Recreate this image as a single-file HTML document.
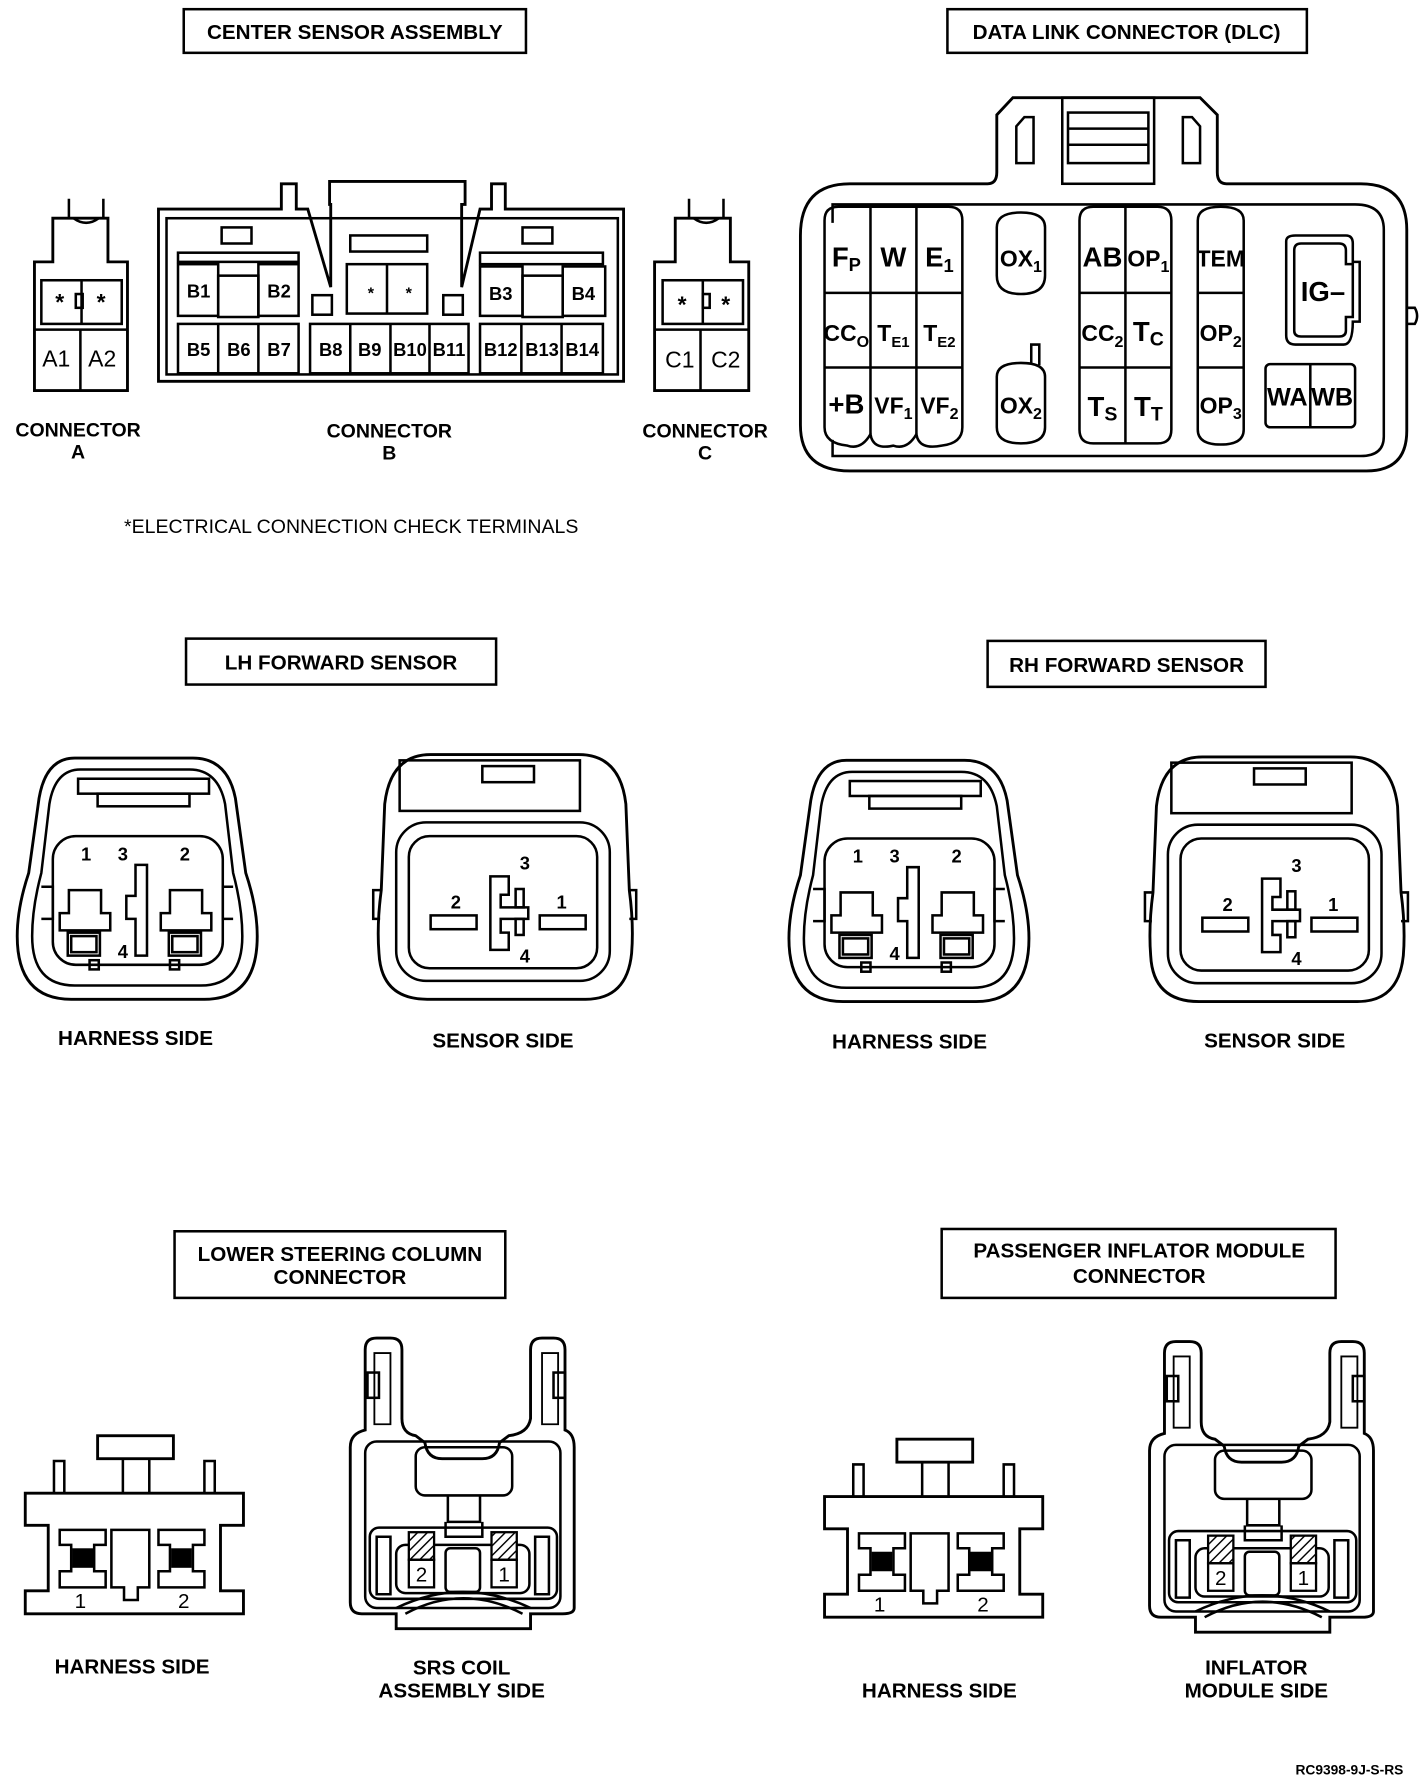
<!DOCTYPE html>
<html><head><meta charset="utf-8"><style>
html,body{margin:0;padding:0;background:#fff;}
svg{display:block;}
text{font-family:"Liberation Sans",sans-serif;font-weight:bold;fill:#000;}
</style></head><body>
<svg width="1424" height="1778" viewBox="0 0 1240 1548" preserveAspectRatio="none" xmlns="http://www.w3.org/2000/svg">
<defs>
<pattern id="hatch" width="6" height="6" patternUnits="userSpaceOnUse" patternTransform="rotate(45)"><rect width="6" height="6" fill="#fff"/><line x1="0" y1="0" x2="0" y2="6" stroke="#000" stroke-width="2.5"/></pattern>
</defs>
<g fill="none" stroke="#000" stroke-width="2.2">
<rect x="160" y="8" width="298" height="38"/>
<rect x="825" y="8" width="313" height="38"/>
<rect x="162" y="556" width="270" height="40"/>
<rect x="860" y="558" width="242" height="40"/>
<rect x="152" y="1072" width="288" height="58"/>
<rect x="820" y="1070" width="343" height="60"/>

<path d="M60,173 V190 M90,173 V190 M64,190 Q75,198 86,190"/>
<path d="M46,190 H94 V228 H111 V340 H30 V228 H46 Z" stroke-width="2.5"/>
<rect x="36" y="244" width="70" height="38"/>
<line x1="71" y1="244" x2="71" y2="282"/>
<rect x="66" y="256" width="6" height="12"/>
<line x1="30" y1="287" x2="111" y2="287"/>
<line x1="70" y1="287" x2="70" y2="340"/>

<path d="M600,173 V190 M630,173 V190 M604,190 Q615,198 626,190"/>
<path d="M588,190 H636 V228 H652 V340 H570 V228 H588 Z" stroke-width="2.5"/>
<rect x="577" y="244" width="70" height="38"/>
<line x1="612" y1="244" x2="612" y2="282"/>
<rect x="612" y="256" width="6" height="12"/>
<line x1="570" y1="287" x2="652" y2="287"/>
<line x1="610" y1="287" x2="610" y2="340"/>

<path d="M138,182 H245 V160 H258 V182 H268 L288,250 V178 H287 V158 H405 V178 H402 V250 L418,182 H428 V160 H440 V182 H543 V332 H138 Z" stroke-width="2.5"/>
<rect x="145" y="190" width="393" height="136"/>
<rect x="193" y="198" width="26" height="14"/>
<rect x="455" y="198" width="26" height="14"/>
<rect x="305" y="205" width="67" height="14"/>
<rect x="155" y="220" width="105" height="8"/>
<rect x="418" y="220" width="107" height="10"/>
<rect x="155" y="230" width="35" height="45"/>
<rect x="225" y="230" width="35" height="45"/>
<rect x="190" y="240" width="35" height="36"/>
<rect x="418" y="232" width="37" height="43"/>
<rect x="490" y="232" width="37" height="43"/>
<rect x="455" y="240" width="35" height="36"/>
<rect x="302" y="230" width="70" height="43"/>
<line x1="337" y1="230" x2="337" y2="273"/>
<rect x="272" y="257" width="17" height="17"/>
<rect x="386" y="257" width="17" height="17"/>
<rect x="155" y="282" width="105" height="43"/>
<line x1="190" y1="282" x2="190" y2="325"/><line x1="225" y1="282" x2="225" y2="325"/>
<rect x="270" y="282" width="138" height="43"/>
<line x1="305" y1="282" x2="305" y2="325"/><line x1="340" y1="282" x2="340" y2="325"/><line x1="374" y1="282" x2="374" y2="325"/>
<rect x="418" y="282" width="107" height="43"/>
<line x1="454" y1="282" x2="454" y2="325"/><line x1="489" y1="282" x2="489" y2="325"/>

<path d="M760,160 H860 Q868,160 868,150 V100 L882,85 H1045 L1060,100 V150 Q1060,160 1068,160 H1185 Q1225,160 1225,200 V375 Q1225,410 1190,410 H740 Q697,410 697,370 V205 Q697,160 740,160 Z" stroke-width="2.5"/>
<path d="M745,178 H1180 Q1205,178 1205,200 V380 Q1205,397 1185,397 H725 V383 M745,178 H725 V194"/>
<rect x="925" y="85" width="80" height="75"/>
<rect x="930" y="98" width="70" height="44"/>
<line x1="930" y1="112" x2="1000" y2="112"/><line x1="930" y1="126" x2="1000" y2="126"/>
<path d="M885,110 L892,102 H900 V142 H885 Z M1030,102 H1038 L1045,110 V142 H1030 Z"/>
<path d="M1225,268 H1232 Q1236,275 1232,282 H1225"/>
<path d="M718,192 Q718,180 730,180 H826 Q838,180 838,192 V372 Q838,386 820,388 Q800,392 798,378 Q790,392 778,388 Q760,392 758,378 Q750,392 738,388 Q718,386 718,372 Z"/>
<line x1="758" y1="180" x2="758" y2="378"/><line x1="798" y1="180" x2="798" y2="378"/>
<line x1="718" y1="255" x2="838" y2="255"/><line x1="718" y1="320" x2="838" y2="320"/>
<path d="M868,198 Q868,185 889,185 Q910,185 910,198 V240 Q910,256 889,256 Q868,256 868,240 Z"/>
<path d="M868,328 Q868,316 889,316 Q910,316 910,328 V372 Q910,386 889,386 Q868,386 868,372 Z"/>
<path d="M898,316 V300 H905 V318"/>
<path d="M940,192 Q940,180 952,180 H1008 Q1020,180 1020,192 V374 Q1020,386 1008,386 H952 Q940,386 940,374 Z"/>
<line x1="980" y1="180" x2="980" y2="386"/>
<line x1="940" y1="255" x2="1020" y2="255"/><line x1="940" y1="320" x2="1020" y2="320"/>
<path d="M1043,192 Q1043,180 1063,180 Q1083,180 1083,192 V374 Q1083,387 1063,387 Q1043,387 1043,374 Z"/>
<line x1="1043" y1="255" x2="1083" y2="255"/><line x1="1043" y1="320" x2="1083" y2="320"/>
<path d="M1120,210 Q1120,205 1128,205 H1172 Q1178,205 1178,212 V228 H1184 V280 H1178 Q1178,300 1170,300 H1128 Q1120,300 1120,292 Z"/>
<path d="M1127,218 Q1127,212 1133,212 H1166 Q1172,212 1172,218 V230 H1178 V276 H1172 V288 Q1172,293 1166,293 H1133 Q1127,293 1127,288 Z"/>
<rect x="1102" y="317" width="78" height="55" rx="4"/>
<line x1="1141" y1="317" x2="1141" y2="372"/>
</g>

<text x="309" y="34" font-size="18" text-anchor="middle">CENTER SENSOR ASSEMBLY</text>
<text x="981" y="34" font-size="18" text-anchor="middle">DATA LINK CONNECTOR (DLC)</text>
<g font-size="20">
<text x="49" y="319" text-anchor="middle" style="font-weight:normal">A1</text>
<text x="89" y="319" text-anchor="middle" style="font-weight:normal">A2</text>
<text x="592" y="320" text-anchor="middle" style="font-weight:normal">C1</text>
<text x="632" y="320" text-anchor="middle" style="font-weight:normal">C2</text>
</g>
<g font-size="20"><text x="52" y="270" text-anchor="middle">*</text><text x="88" y="270" text-anchor="middle">*</text>
<text x="594" y="272" text-anchor="middle">*</text><text x="632" y="272" text-anchor="middle">*</text>
<text x="323" y="260" font-size="14" text-anchor="middle">*</text><text x="356" y="260" font-size="14" text-anchor="middle">*</text></g>
<g font-size="16" text-anchor="middle">
<text x="173" y="259">B1</text><text x="243" y="259">B2</text><text x="436" y="261">B3</text><text x="508" y="261">B4</text>
<text x="173" y="310">B5</text><text x="208" y="310">B6</text><text x="243" y="310">B7</text>
<text x="288" y="310">B8</text><text x="322" y="310">B9</text><text x="357" y="310">B10</text><text x="391" y="310">B11</text>
<text x="436" y="310">B12</text><text x="472" y="310">B13</text><text x="507" y="310">B14</text>
</g>
<g font-size="17" text-anchor="middle">
<text x="68" y="380">CONNECTOR</text><text x="68" y="399">A</text>
<text x="339" y="381">CONNECTOR</text><text x="339" y="400">B</text>
<text x="614" y="381">CONNECTOR</text><text x="614" y="400">C</text>
</g>
<text x="108" y="464" font-size="17" style="font-weight:normal">*ELECTRICAL CONNECTION CHECK TERMINALS</text>
<g font-size="24" text-anchor="middle">
<text x="737" y="232">F<tspan font-size="16" dy="4">P</tspan></text>
<text x="778" y="232">W</text>
<text x="818" y="232">E<tspan font-size="16" dy="5">1</tspan></text>
<text x="737" y="297" font-size="20">CC<tspan font-size="14" dy="5">O</tspan></text>
<text x="778" y="297" font-size="20">T<tspan font-size="13" dy="5">E1</tspan></text>
<text x="818" y="297" font-size="20">T<tspan font-size="13" dy="5">E2</tspan></text>
<text x="737" y="360">+B</text>
<text x="778" y="360" font-size="20">VF<tspan font-size="14" dy="5">1</tspan></text>
<text x="818" y="360" font-size="20">VF<tspan font-size="14" dy="5">2</tspan></text>
<text x="889" y="232" font-size="20">OX<tspan font-size="14" dy="5">1</tspan></text>
<text x="889" y="360" font-size="20">OX<tspan font-size="14" dy="5">2</tspan></text>
<text x="960" y="232">AB</text>
<text x="1000" y="232" font-size="20">OP<tspan font-size="14" dy="5">1</tspan></text>
<text x="960" y="297" font-size="20">CC<tspan font-size="14" dy="5">2</tspan></text>
<text x="1000" y="297">T<tspan font-size="17" dy="4">C</tspan></text>
<text x="960" y="362">T<tspan font-size="17" dy="4">S</tspan></text>
<text x="1000" y="362">T<tspan font-size="17" dy="4">T</tspan></text>
<text x="1063" y="232" font-size="20">TEM</text>
<text x="1063" y="297" font-size="20">OP<tspan font-size="14" dy="5">2</tspan></text>
<text x="1063" y="360" font-size="20">OP<tspan font-size="14" dy="5">3</tspan></text>
<text x="1152" y="262">IG–</text>
<text x="1121" y="353" font-size="22">WA</text>
<text x="1160" y="353" font-size="22">WB</text>
</g>

<text x="297" y="583" font-size="18" text-anchor="middle">LH FORWARD SENSOR</text>
<text x="981" y="585" font-size="18" text-anchor="middle">RH FORWARD SENSOR</text>
<text x="296" y="1098" font-size="18" text-anchor="middle">LOWER STEERING COLUMN</text>
<text x="296" y="1118" font-size="18" text-anchor="middle">CONNECTOR</text>
<text x="992" y="1095" font-size="18" text-anchor="middle">PASSENGER INFLATOR MODULE</text>
<text x="992" y="1117" font-size="18" text-anchor="middle">CONNECTOR</text>

<g id="fwd">
<g fill="none" stroke="#000" stroke-width="2.2">
<path d="M65,660 H168 Q198,660 205,695 L214,760 Q224,790 224,815 Q224,870 178,870 H62 Q15,870 15,815 Q15,790 25,760 L34,695 Q40,660 65,660 Z" stroke-width="2.5"/>
<path d="M70,670 H165 Q190,670 196,700 L203,760 Q211,790 211,815 Q211,858 175,858 H65 Q28,858 28,815 Q28,790 36,760 L43,700 Q48,670 70,670 Z"/>
<rect x="68" y="678" width="114" height="13"/>
<rect x="85" y="691" width="80" height="11"/>
<rect x="46" y="728" width="148" height="112" rx="20"/>
<path d="M36,772 H46 V800 H36 M203,772 H194 V800 H203"/>
<path d="M60,775 V795 H52 V810 H96 V795 H88 V775 Z"/>
<path d="M148,775 V795 H140 V810 H184 V795 H176 V775 Z"/>
<rect x="59" y="812" width="28" height="20"/><rect x="62" y="815" width="22" height="14"/>
<rect x="147" y="812" width="28" height="20"/><rect x="150" y="815" width="22" height="14"/>
<rect x="78" y="836" width="8" height="8"/><rect x="148" y="836" width="8" height="8"/>
<path d="M118,753 H128 V832 H118 V800 H110 V780 H118 Z"/>
<path d="M375,657 H504 Q540,657 545,700 L548,775 Q552,805 550,830 Q546,870 510,870 H372 Q332,870 330,830 Q328,805 332,775 L335,700 Q340,657 375,657 Z" stroke-width="2.5"/>
<rect x="348" y="662" width="157" height="44"/>
<rect x="420" y="667" width="45" height="14"/>
<rect x="345" y="716" width="186" height="138" rx="26"/>
<rect x="356" y="728" width="164" height="115" rx="18"/>
<path d="M331,775 H325 V800 H331 M548,775 H554 V800 H548"/>
<rect x="375" y="797" width="40" height="12"/>
<rect x="470" y="797" width="40" height="12"/>
<path d="M427,763 H443 V779 H436 V790 H460 V800 H436 V812 H443 V827 H427 Z"/>
<rect x="449" y="774" width="7" height="16"/>
<rect x="449" y="800" width="7" height="14"/>
</g>
<g font-size="16" text-anchor="middle">
<text x="75" y="749">1</text><text x="107" y="749">3</text><text x="161" y="749">2</text><text x="107" y="834">4</text>
<text x="457" y="757">3</text><text x="397" y="791">2</text><text x="489" y="791">1</text><text x="457" y="838">4</text>
</g>
</g>
<use href="#fwd" transform="translate(672,2)"/>
<g font-size="18" text-anchor="middle">
<text x="118" y="910">HARNESS SIDE</text>
<text x="438" y="912">SENSOR SIDE</text>
<text x="792" y="913">HARNESS SIDE</text>
<text x="1110" y="912">SENSOR SIDE</text>
</g>

<g id="low">
<g fill="none" stroke="#000" stroke-width="2.2">
<rect x="85" y="1250" width="66" height="20" stroke-width="2.5"/>
<path d="M107,1270 V1300 M130,1270 V1300"/>
<path d="M47,1300 V1272 H56 V1300 M178,1300 V1272 H187 V1300"/>
<path d="M22,1300 H212 V1328 H192 V1385 H212 V1405 H22 V1385 H42 V1328 H22 Z" stroke-width="2.5"/>
<path d="M52,1332 H92 V1345 H82 V1368 H92 V1382 H52 V1368 H62 V1345 H52 Z"/>
<path d="M138,1332 H178 V1345 H168 V1368 H178 V1382 H138 V1368 H148 V1345 H138 Z"/>
<path d="M97,1332 H130 V1382 H120 V1393 H108 V1382 H97 Z"/>
<path d="M318,1175 Q318,1165 328,1165 H340 Q350,1165 350,1175 V1235 Q350,1248 362,1250 L370,1256 Q372,1270 385,1270 H420 Q433,1270 435,1256 L443,1250 Q460,1248 462,1235 V1175 Q462,1165 472,1165 H482 Q492,1165 492,1175 V1245 Q500,1248 500,1260 V1400 Q500,1405 490,1405 H462 V1418 H345 V1405 H315 Q305,1405 305,1395 V1260 Q305,1248 318,1245 Z" stroke-width="2.5"/>
<path d="M326,1178 H340 V1240 H326 Z M472,1178 H486 V1240 H472 Z" stroke-width="1.6"/>
<rect x="320" y="1195" width="10" height="22"/><rect x="482" y="1195" width="10" height="22"/>
<rect x="318" y="1255" width="170" height="145" rx="10"/>
<rect x="362" y="1260" width="84" height="42" rx="8"/>
<path d="M390,1302 V1325 H418 V1302"/>
<path d="M388,1325 V1338 H420 V1325"/>
<rect x="322" y="1330" width="163" height="62" rx="8"/>
<rect x="345" y="1345" width="116" height="42" rx="8"/>
<path d="M328,1338 H340 V1388 H328 Z M466,1338 H478 V1388 H466 Z"/>
<path d="M353,1405 Q403,1378 455,1405"/>
<path d="M345,1400 Q403,1372 462,1400"/>
<rect x="388" y="1348" width="30" height="38" rx="4"/>
</g>
<rect x="63" y="1348" width="18" height="17" fill="#000"/>
<rect x="149" y="1348" width="18" height="17" fill="#000"/>
<rect x="356" y="1334" width="22" height="24" fill="url(#hatch)" stroke="#000" stroke-width="2"/>
<rect x="428" y="1334" width="22" height="24" fill="url(#hatch)" stroke="#000" stroke-width="2"/>
<rect x="356" y="1358" width="22" height="24" fill="none" stroke="#000" stroke-width="2"/>
<rect x="428" y="1358" width="22" height="24" fill="none" stroke="#000" stroke-width="2"/>
<g font-size="18" text-anchor="middle">
<text x="70" y="1400" style="font-weight:normal">1</text><text x="160" y="1400" style="font-weight:normal">2</text>
<text x="367" y="1377" style="font-weight:normal">2</text><text x="439" y="1377" style="font-weight:normal">1</text>
</g>
</g>
<use href="#low" transform="translate(696,3)"/>
<g font-size="18" text-anchor="middle">
<text x="115" y="1457">HARNESS SIDE</text>
<text x="402" y="1458">SRS COIL</text>
<text x="402" y="1478">ASSEMBLY SIDE</text>
<text x="818" y="1478">HARNESS SIDE</text>
<text x="1094" y="1458">INFLATOR</text>
<text x="1094" y="1478">MODULE SIDE</text>
</g>
<text x="1222" y="1545" font-size="12" text-anchor="end">RC9398-9J-S-RS</text>
</svg>
</body></html>
